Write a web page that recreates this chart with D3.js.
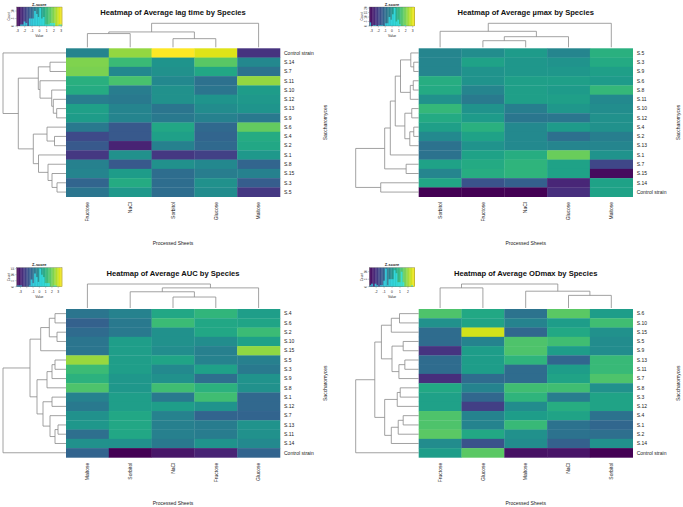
<!DOCTYPE html>
<html><head><meta charset="utf-8">
<script src="https://cdn.jsdelivr.net/npm/d3@7"></script>
<style>
body{margin:0;background:#fff}
svg{display:block}
text{font-family:"Liberation Sans",Arial,Helvetica,sans-serif}
</style>
</head><body>
<svg id="chart" width="683" height="507"></svg>
<script>
// ---------------- DATA ----------------
const lagTitle = "Heatmap of Average lag time by Species";
const lagRows = ["Control strain","S.14","S.7","S.11","S.10","S.12","S.13","S.9","S.6","S.4","S.2","S.1","S.8","S.15","S.3","S.5"];
const lagCols = ["Fructose","NaCl","Sorbitol","Glucose","Maltose"];
const lagValues = [
  [-0.3, 2.1, 3.1, 2.8, -2.2],
  [1.9, 1.1, 0.1, 1.5, -0.2],
  [1.85, -0.2, 0.0, 0.6, -0.75],
  [0.8, 1.3, -0.2, -0.8, 2.1],
  [0.7, -0.5, 0.0, -0.7, 0.3],
  [-0.5, -0.6, 0.0, 0.1, 0.2],
  [0.4, -0.3, -0.7, -0.1, 0.1],
  [0.3, -0.3, -0.6, -0.4, -0.6],
  [-0.6, -1.4, 0.6, -1.0, 1.6],
  [-1.7, -1.4, 0.4, -1.1, 0.7],
  [-1.4, -2.5, -0.4, -1.0, 0.6],
  [-2.1, 0.0, -2.1, -1.9, 0.2],
  [-0.4, -1.4, 0.0, -0.2, -1.1],
  [-0.3, 0.3, -0.9, -0.5, -0.4],
  [-1.1, 0.7, -0.9, 0.0, -1.3],
  [-0.7, 0.2, -0.9, -0.1, -2.1]
];
const lagRowTree = [63, "Control strain",
  [47.7,
    [27.7, [16, "S.14", "S.7"], [26, "S.11", [14.3, "S.10", [12.7, "S.12", [9.3, "S.13", "S.9"]]]]],
    [32.7, [19, "S.6", [11.5, "S.4", "S.2"]], [27.5, "S.1", [18, "S.8", [14, "S.15", [9, "S.3", "S.5"]]]]]
  ]];
const lagColTree = [25, [16, [14.3, "Fructose", "NaCl"], [9, "Sorbitol", "Glucose"]], "Maltose"];
const lagRange = 3.1;
const lagTicks = [-3, -2, -1, 0, 1, 2, 3];

const muTitle = "Heatmap of Average \u00b5max by Species";
const muRows = ["S.5","S.3","S.9","S.6","S.8","S.11","S.10","S.12","S.4","S.2","S.13","S.1","S.7","S.15","S.14","Control strain"];
const muCols = ["Sorbitol","Fructose","NaCl","Glucose","Maltose"];
const muValues = [
  [-0.3, -0.1, 0.3, -0.3, 0.9],
  [-0.3, 0.5, 0.2, 0.1, 0.7],
  [-0.3, 0.1, 0.2, 0.2, 0.4],
  [0.8, 0.1, 0.4, 0.4, 0.3],
  [0.7, -0.3, 0.4, 0.3, 1.1],
  [0.0, -0.6, 0.4, 0.4, -0.2],
  [1.1, 0.1, -0.5, 0.2, -0.1],
  [0.7, 0.3, -0.7, -0.7, 0.0],
  [0.4, 0.9, -0.2, 0.3, 0.0],
  [-0.2, 0.5, -0.2, -0.9, -0.5],
  [-0.8, 0.1, -0.2, -0.3, -0.3],
  [-0.8, 0.5, 0.8, 1.8, 0.1],
  [0.5, 0.7, 1.0, 0.5, -1.9],
  [-0.3, 0.8, 1.0, 0.5, -3.1],
  [0.6, -1.6, -1.3, -2.6, 0.5],
  [-3.3, -3.3, -3.3, -2.4, 0.5]
];
const muRowTree = [63.7,
  [34.4,
    [28.7,
      [23.7,
        [18.4, [8, "S.5", [5, "S.3", "S.9"]], [8.5, [5.5, "S.6", "S.8"], "S.11"]],
        [14, [7, "S.10", "S.12"], [9, [5, "S.4", "S.2"], "S.13"]]
      ], "S.1"],
    [12.7, "S.7", "S.15"]],
  [38.4, "S.14", "Control strain"]];
const muColTree = [24, [16, "Sorbitol", [10.6, [6.6, "Fructose", "NaCl"], "Glucose"]], "Maltose"];
const muRange = 3.3;
const muTicks = [-3, -2, -1, 0, 1, 2, 3];

const aucTitle = "Heatmap of Average AUC by Species";
const aucRows = ["S.4","S.6","S.2","S.10","S.15","S.5","S.3","S.9","S.8","S.1","S.12","S.7","S.13","S.11","S.14","Control strain"];
const aucCols = ["Maltose","Sorbitol","NaCl","Fructose","Glucose"];
const aucValues = [
  [-0.8, -0.4, 0.7, 1.1, 0.4],
  [-1.4, -0.7, 1.3, 0.7, 0.6],
  [-1.1, -0.7, 0.0, 0.7, 1.3],
  [-0.8, 0.4, 0.0, -0.1, 0.5],
  [-0.8, 0.4, -0.1, -0.5, 2.4],
  [2.5, 0.4, 0.6, -0.4, -0.5],
  [1.3, 0.4, -0.2, 0.5, -0.7],
  [1.0, 0.2, 0.0, -1.0, 0.1],
  [1.6, 0.2, 1.4, 1.0, 0.0],
  [-0.4, 0.4, -0.7, 1.4, -1.2],
  [-0.7, 0.4, 0.4, 0.1, -1.2],
  [0.0, 0.7, -0.4, -1.3, -1.3],
  [0.2, 0.7, -0.5, -0.6, 0.1],
  [-1.0, 0.7, -0.5, -0.6, 0.0],
  [0.0, 0.0, -0.7, 0.1, -0.2],
  [-1.3, -3.6, -3.2, -2.9, -1.3]
];
const aucRowTree = [63,
  [36,
    [25.3, [16.7, [11, "S.4", "S.6"], [9, "S.2", "S.10"]], "S.15"],
    [29,
      [19, [14, [11, "S.5", "S.3"], "S.9"], "S.8"],
      [23, [14, "S.1", "S.12"], [16, "S.7", [11, [8, "S.13", "S.11"], "S.14"]]]
    ]],
  "Control strain"];
const aucColTree = [24.7, "Maltose", [20.7, [16.7, "Sorbitol", [11.3, "NaCl", "Fructose"]], "Glucose"]];
const aucRange = 3.6;
const aucTicks = [-3, -2, -1, 0, 1, 2, 3];
const aucTickLabels = ["-3", "", "-1", "0", "1", "2", "3"];

const odTitle = "Heatmap of Average ODmax by Species";
const odRows = ["S.6","S.10","S.15","S.5","S.9","S.13","S.11","S.7","S.8","S.3","S.12","S.4","S.1","S.2","S.14","Control strain"];
const odCols = ["Fructose","Glucose","Maltose","NaCl","Sorbitol"];
const odValues = [
  [1.25, 0.57, -0.68, 1.4, 0.3],
  [0.0, 0.45, -0.3, 0.3, 1.1],
  [-0.85, 2.45, -0.97, 0.57, 0.0],
  [-0.85, -0.3, 1.25, 1.1, -0.1],
  [-2.0, 0.3, 1.25, 0.3, -0.1],
  [-0.85, 0.3, 0.85, -1.0, 1.0],
  [-0.85, 0.3, -0.85, 0.3, 1.0],
  [-2.1, -0.85, -0.85, 0.45, 1.25],
  [0.57, -0.3, 1.1, 1.1, 0.0],
  [0.4, -0.97, 0.85, -0.45, 0.45],
  [0.4, -1.8, -0.1, 0.7, 0.45],
  [1.25, -0.3, 0.3, 0.45, -0.7],
  [1.25, -0.3, 1.0, -0.7, -0.97],
  [1.4, 0.57, 0.0, -0.7, -0.8],
  [-0.1, -1.4, -0.1, -1.1, 0.0],
  [0.3, 1.4, -2.6, -2.55, -2.85]
];
const odRowTree = [63.7,
  [44.4,
    [37.7,
      [27.7, [19.4, "S.6", "S.10"], "S.15"],
      [27, [15.7, "S.5", "S.9"], [20, [14, "S.13", "S.11"], "S.7"]]
    ],
    [34.4,
      [21.7, [18.7, "S.8", "S.3"], "S.12"],
      [27.7, [20.7, [15.7, "S.4", "S.1"], "S.2"], "S.14"]
    ]],
  "Control strain"];
const odColTree = [24.7, [20.7, "Fructose", "Glucose"], [17.3, "Maltose", [13, "NaCl", "Sorbitol"]]];
const odRange = 2.85;
const odTicks = [-2, -1, 0, 1, 2];

const xAxisTitle = "Processed Sheets";
const yAxisTitle = "Saccharomyces";
const keyTitle = "Z-score";
const keyXLabel = "Value";
const keyYLabel = "Count";

// --------------- DRAWING ---------------
const svg = d3.select("#chart");
svg.append("rect").attr("width", 683).attr("height", 507).attr("fill", "#fff");

const panels = [
  {title: lagTitle, rows: lagRows, cols: lagCols, values: lagValues, rowTree: lagRowTree, colTree: lagColTree, range: lagRange, ticks: lagTicks, tickLabels: null, dx: 0, dy: 0},
  {title: muTitle, rows: muRows, cols: muCols, values: muValues, rowTree: muRowTree, colTree: muColTree, range: muRange, ticks: muTicks, tickLabels: null, dx: 352.7, dy: 0},
  {title: aucTitle, rows: aucRows, cols: aucCols, values: aucValues, rowTree: aucRowTree, colTree: aucColTree, range: aucRange, ticks: aucTicks, tickLabels: aucTickLabels, dx: 0, dy: 260.7},
  {title: odTitle, rows: odRows, cols: odCols, values: odValues, rowTree: odRowTree, colTree: odColTree, range: odRange, ticks: odTicks, tickLabels: null, dx: 352.7, dy: 260.7}
];

const G = {
  hx0: 66, hx1: 280, hy0: 48.3, hy1: 196.7,
  rowDendroLeft: 3, colDendroTop: 23.3,
  rowLabelX: 284, colLabelTop: 202,
  xTitleY: 244.5, yTitleX: 327,
  titleX: 173, titleY: 15,
  keyX0: 16.7, keyX1: 62, keyY0: 7, keyY1: 26
};
const lineCol = "#8a8a8a";
const textCol = "#222";

function walk(node, pos, segs) {
  if (typeof node === "string") return {p: pos(node), h: 0};
  const a = walk(node[1], pos, segs), b = walk(node[2], pos, segs);
  segs.push({h: node[0], a, b});
  return {p: (a.p + b.p) / 2, h: node[0]};
}

panels.forEach(P => {
  const g = svg.append("g").attr("transform", `translate(${P.dx},${P.dy})`);
  const x = d3.scaleBand().domain(P.cols).range([G.hx0, G.hx1]);
  const y = d3.scaleBand().domain(P.rows).range([G.hy0, G.hy1]);
  const color = d3.scaleSequential(d3.interpolateViridis).domain([-P.range, P.range]);

  // cells
  const cells = [];
  P.rows.forEach((r, i) => P.cols.forEach((c, j) => cells.push({r, c, v: P.values[i][j]})));
  g.append("g").selectAll("rect").data(cells).join("rect")
    .attr("x", d => x(d.c)).attr("y", d => y(d.r))
    .attr("width", x.bandwidth() + 0.3).attr("height", y.bandwidth() + 0.3)
    .attr("fill", d => color(d.v));

  // row dendrogram
  const rowSegs = [];
  const rowRoot = walk(P.rowTree, n => y(n) + y.bandwidth() / 2, rowSegs);
  const sx = d3.scaleLinear().domain([0, rowRoot.h]).range([G.hx0, G.rowDendroLeft]);
  g.append("g").selectAll("path").data(rowSegs).join("path")
    .attr("d", s => `M${sx(s.a.h)},${s.a.p}H${sx(s.h)}V${s.b.p}H${sx(s.b.h)}`)
    .attr("fill", "none").attr("stroke", lineCol).attr("stroke-width", 0.8);

  // column dendrogram
  const colSegs = [];
  const colRoot = walk(P.colTree, n => x(n) + x.bandwidth() / 2, colSegs);
  const sy = d3.scaleLinear().domain([0, colRoot.h]).range([G.hy0 - 1, G.colDendroTop]);
  g.append("g").selectAll("path").data(colSegs).join("path")
    .attr("d", s => `M${s.a.p},${sy(s.a.h)}V${sy(s.h)}H${s.b.p}V${sy(s.b.h)}`)
    .attr("fill", "none").attr("stroke", lineCol).attr("stroke-width", 0.8);

  // row labels
  g.append("g").selectAll("text").data(P.rows).join("text")
    .attr("x", G.rowLabelX).attr("y", d => y(d) + y.bandwidth() / 2)
    .attr("dy", "0.35em").attr("font-size", 5).attr("fill", textCol).text(d => d);

  // column labels
  g.append("g").selectAll("text").data(P.cols).join("text")
    .attr("transform", d => `translate(${x(d) + x.bandwidth() / 2 + 1.7},${G.colLabelTop}) rotate(-90)`)
    .attr("text-anchor", "end").attr("font-size", 5).attr("fill", textCol).text(d => d);

  // axis titles
  g.append("text").attr("x", (G.hx0 + G.hx1) / 2).attr("y", G.xTitleY)
    .attr("text-anchor", "middle").attr("font-size", 5).attr("fill", textCol).text(xAxisTitle);
  g.append("text").attr("transform", `translate(${G.yTitleX},${(G.hy0 + G.hy1) / 2}) rotate(-90)`)
    .attr("text-anchor", "middle").attr("font-size", 5).attr("fill", textCol).text(yAxisTitle);

  // main title
  g.append("text").attr("x", G.titleX).attr("y", G.titleY)
    .attr("text-anchor", "middle").attr("font-size", 7.6).attr("font-weight", "bold")
    .attr("fill", "#111").text(P.title);

  // colour key
  const kx = d3.scaleLinear().domain([-P.range, P.range]).range([G.keyX0, G.keyX1]);
  const kg = g.append("g");
  const steps = d3.range(0, 60);
  const sw = (G.keyX1 - G.keyX0) / steps.length;
  kg.selectAll("rect.k").data(steps).join("rect").attr("class", "k")
    .attr("x", i => G.keyX0 + i * sw).attr("y", G.keyY0)
    .attr("width", sw + 0.3).attr("height", G.keyY1 - G.keyY0)
    .attr("fill", i => color(kx.invert(G.keyX0 + (i + 0.5) * sw)));
  // histogram of the panel's values
  const flat = P.values.flat();
  const bins = d3.bin().domain([-P.range, P.range])
    .thresholds(d3.range(-P.range, P.range, (2 * P.range) / 26))(flat);
  const maxC = d3.max(bins, b => b.length);
  const ky = d3.scaleLinear().domain([0, Math.max(maxC, 1)]).range([G.keyY1, G.keyY0 + 1]);
  kg.selectAll("rect.h").data(bins).join("rect").attr("class", "h")
    .attr("x", b => kx(b.x0)).attr("width", b => Math.max(0, kx(b.x1) - kx(b.x0)))
    .attr("y", b => ky(b.length)).attr("height", b => G.keyY1 - ky(b.length))
    .attr("fill", "#33e6f0").attr("fill-opacity", 0.75);
  kg.append("rect").attr("x", G.keyX0).attr("y", G.keyY0)
    .attr("width", G.keyX1 - G.keyX0).attr("height", G.keyY1 - G.keyY0)
    .attr("fill", "none").attr("stroke", "#555").attr("stroke-width", 0.3);
  // key x ticks
  P.ticks.forEach((t, i) => {
    kg.append("line").attr("x1", kx(t)).attr("x2", kx(t)).attr("y1", G.keyY1).attr("y2", G.keyY1 + 1.5)
      .attr("stroke", "#555").attr("stroke-width", 0.3);
    const lab = P.tickLabels ? P.tickLabels[i] : String(t);
    kg.append("text").attr("x", kx(t)).attr("y", G.keyY1 + 6).attr("text-anchor", "middle")
      .attr("font-size", 3.3).attr("fill", textCol).text(lab);
  });
  // key y ticks (counts)
  const yt = ky.ticks(3);
  yt.forEach(t => {
    kg.append("line").attr("x1", G.keyX0 - 1.5).attr("x2", G.keyX0).attr("y1", ky(t)).attr("y2", ky(t))
      .attr("stroke", "#555").attr("stroke-width", 0.3);
    kg.append("text").attr("transform", `translate(${G.keyX0 - 2.5},${ky(t)}) rotate(-90)`)
      .attr("text-anchor", "middle").attr("font-size", 3).attr("fill", textCol).text(t);
  });
  kg.append("text").attr("transform", `translate(${G.keyX0 - 6.5},${(G.keyY0 + G.keyY1) / 2}) rotate(-90)`)
    .attr("text-anchor", "middle").attr("font-size", 3).attr("fill", textCol).text(keyYLabel);
  kg.append("text").attr("x", (G.keyX0 + G.keyX1) / 2).attr("y", G.keyY1 + 11)
    .attr("text-anchor", "middle").attr("font-size", 3.3).attr("fill", textCol).text(keyXLabel);
  kg.append("text").attr("x", (G.keyX0 + G.keyX1) / 2).attr("y", G.keyY0 - 1.5)
    .attr("text-anchor", "middle").attr("font-size", 4).attr("font-weight", "bold").attr("fill", textCol).text(keyTitle);
});
</script>
</body></html>
